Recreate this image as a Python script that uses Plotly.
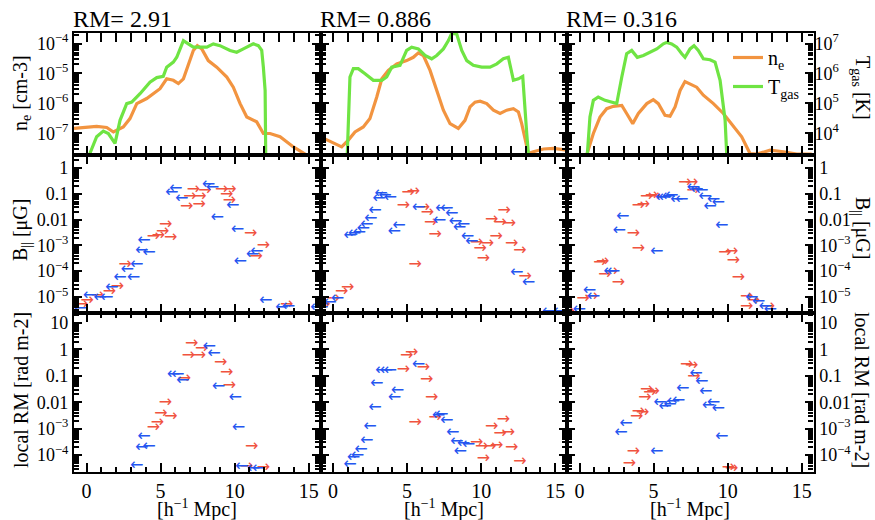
import numpy as np
import plotly.graph_objects as go

# ---------------- data (x in h^-1 Mpc, values as log10) ----------------
col_titles = ["RM= 2.91", "RM= 0.886", "RM= 0.316"]

# top row: electron density (log10 cm^-3) and gas temperature (log10 K)
ne_a_x = [-0.85, 0.68, 1.36, 1.81, 2.48, 2.93, 3.39, 4.06, 4.96, 5.41, 5.86, 6.20, 6.54, 6.87, 7.21, 7.48, 7.78, 8.22, 8.79, 9.47, 9.91, 10.37, 10.82, 11.49, 11.94, 12.39, 13.07, 13.97, 14.87]
ne_a_lg = [-6.84, -6.77, -6.81, -6.96, -6.79, -6.51, -6.01, -5.84, -5.51, -5.18, -5.23, -5.34, -5.18, -4.73, -4.23, -4.07, -4.18, -4.57, -4.79, -5.12, -5.46, -6.01, -6.46, -6.62, -7.01, -7.01, -7.12, -7.46, -7.73]
T_a_x = [0.18, 0.68, 1.13, 1.47, 1.92, 2.26, 2.71, 3.05, 3.61, 4.28, 4.74, 5.18, 5.41, 5.86, 6.09, 6.54, 6.87, 7.21, 7.66, 8.12, 8.56, 9.01, 9.69, 10.14, 10.59, 11.26, 11.60, 11.83, 11.94, 12.06, 12.10]
T_a_lg = [3.27, 3.88, 4.07, 3.99, 3.66, 4.43, 4.99, 5.04, 5.32, 5.71, 5.86, 5.90, 6.21, 6.38, 6.54, 7.10, 6.99, 6.88, 6.88, 6.88, 6.99, 6.93, 6.77, 6.71, 6.82, 6.99, 6.93, 6.77, 6.21, 5.43, 3.27]

ne_b_x = [-0.77, -0.09, 0.58, 1.03, 1.48, 2.04, 2.49, 2.95, 3.29, 3.73, 4.30, 4.97, 5.42, 5.76, 6.10, 6.55, 7.00, 7.45, 7.90, 8.46, 8.91, 9.25, 9.59, 9.93, 10.38, 10.83, 11.28, 11.73, 12.18, 12.52, 12.74, 13.08, 13.19, 13.53, 14.21, 14.89, 15.56, 15.80]
ne_b_lg = [-7.14, -7.29, -7.46, -7.23, -6.96, -6.79, -6.51, -5.79, -5.18, -4.90, -4.68, -4.57, -4.46, -4.31, -4.40, -4.90, -5.57, -6.23, -6.68, -6.84, -6.57, -6.12, -5.96, -5.93, -6.01, -6.23, -6.34, -6.23, -6.18, -6.29, -6.68, -7.46, -7.68, -7.62, -7.53, -7.51, -7.57, -7.57]
T_b_x = [0.96, 1.14, 1.37, 1.70, 2.16, 2.72, 3.29, 3.62, 3.96, 4.52, 4.97, 5.31, 5.76, 6.21, 6.66, 7.00, 7.45, 7.79, 8.01, 8.35, 8.69, 9.03, 9.47, 10.04, 10.60, 11.06, 11.50, 11.84, 12.18, 12.52, 12.81, 12.90, 13.08, 13.19]
T_b_lg = [3.32, 5.88, 6.16, 6.16, 5.99, 5.77, 5.77, 5.88, 6.21, 6.27, 6.77, 6.88, 6.82, 6.60, 6.49, 6.60, 6.82, 7.10, 7.34, 7.32, 6.77, 6.43, 6.27, 6.21, 6.21, 6.32, 6.49, 6.54, 5.77, 5.82, 5.90, 5.10, 3.99, 3.32]

ne_c_x = [0.48, 0.93, 1.38, 1.83, 2.28, 2.85, 3.18, 3.59, 3.97, 4.54, 4.98, 5.32, 5.77, 6.11, 6.45, 6.79, 7.12, 7.46, 7.91, 8.36, 9.04, 9.71, 10.28, 10.95, 11.51, 11.97, 12.87, 13.77, 14.67, 15.68]
ne_c_lg = [-7.73, -7.01, -6.46, -6.18, -6.10, -6.07, -6.34, -6.68, -6.34, -6.01, -5.88, -6.01, -6.40, -6.43, -6.12, -5.57, -5.27, -5.34, -5.46, -5.73, -6.01, -6.34, -6.68, -7.12, -7.68, -7.70, -7.57, -7.62, -7.70, -7.70]
T_c_x = [0.52, 0.70, 0.93, 1.26, 1.72, 2.51, 2.85, 3.18, 3.52, 3.90, 4.31, 4.76, 5.21, 5.66, 5.89, 6.22, 6.56, 6.90, 7.12, 7.46, 7.73, 8.02, 8.36, 8.81, 9.15, 9.49, 9.83, 9.94]
T_c_lg = [3.27, 4.54, 5.10, 5.21, 5.10, 4.99, 5.88, 6.66, 6.77, 6.54, 6.60, 6.71, 6.82, 6.99, 7.04, 6.99, 6.88, 6.66, 6.54, 6.82, 6.93, 6.77, 6.49, 6.46, 6.38, 5.77, 4.43, 3.27]

# middle row: B_parallel (log10 muG); red = pointing away (->), blue = towards (<-)
Ba_red_x = [-0.33, 0.05, 0.75, 1.54, 2.08, 2.60, 4.51, 4.85, 5.14, 5.34, 5.68, 6.76, 6.99, 7.21, 7.60, 7.66, 8.00, 9.13, 9.69, 9.47, 9.65, 11.09, 11.94, 11.45, 13.52]
Ba_red_lg = [-5.31, -5.15, -4.95, -4.79, -4.60, -3.76, -2.66, -2.62, -2.47, -2.21, -2.73, -1.50, -1.11, -0.85, -1.43, -1.11, -0.89, -0.85, -0.85, -1.05, -1.28, -2.56, -3.01, -3.44, -5.31]
Ba_blue_x = [-0.45, 0.19, 0.91, 1.36, 1.70, 2.26, 3.16, 2.75, 3.38, 3.72, 4.22, 3.88, 5.75, 6.02, 6.43, 8.23, 8.50, 8.83, 9.87, 10.19, 10.37, 11.20, 11.49, 12.10, 13.18, 13.63, 15.55]
Ba_blue_lg = [-5.47, -4.95, -5.05, -5.03, -4.66, -4.28, -4.28, -3.95, -3.76, -3.22, -3.31, -2.82, -0.98, -0.83, -1.20, -0.66, -0.79, -1.93, -1.46, -2.40, -3.63, -3.37, -3.27, -5.14, -5.44, -5.37, -5.44]

Bb_red_x = [-0.61, 0.02, 0.58, 0.99, 5.08, 5.42, 4.75, 6.10, 6.37, 6.59, 6.89, 5.54, 9.70, 9.93, 10.42, 10.15, 11.55, 10.72, 11.28, 11.91, 11.01, 12.07, 12.63, 12.97]
Bb_red_lg = [-5.31, -5.08, -4.82, -4.64, -0.98, -0.94, -1.46, -1.56, -1.76, -2.14, -2.60, -3.76, -2.92, -3.14, -2.96, -3.53, -1.65, -2.02, -2.14, -2.17, -2.66, -2.95, -3.20, -4.21]
Bb_blue_x = [-0.77, -0.21, 0.29, 1.14, 1.44, 1.77, 2.04, 2.27, 2.54, 2.83, 3.10, 3.24, 3.51, 3.85, 4.12, 4.45, 5.76, 7.34, 7.68, 7.18, 8.01, 8.24, 8.53, 8.80, 9.07, 9.36, 12.40, 13.19, 14.54, 15.30]
Bb_blue_lg = [-5.41, -5.22, -5.08, -2.62, -2.57, -2.53, -2.36, -2.21, -1.98, -1.67, -1.20, -1.02, -1.07, -1.18, -2.47, -2.24, -1.56, -1.59, -1.59, -2.05, -1.80, -2.08, -2.31, -2.23, -2.66, -2.88, -4.08, -4.47, -5.59, -5.58]

Bc_red_x = [-0.76, 0.25, 0.82, 1.38, 1.56, 1.72, 2.17, 2.62, 3.63, 3.97, 3.97, 4.31, 4.53, 4.87, 5.09, 7.12, 7.57, 7.68, 9.82, 10.27, 10.39, 10.73, 11.29, 11.29, 11.74, 12.75]
Bc_red_lg = [-5.57, -5.08, -4.99, -3.70, -3.63, -4.15, -4.04, -4.44, -2.56, -3.14, -1.47, -1.43, -1.11, -1.07, -1.11, -0.59, -0.59, -0.89, -3.31, -3.24, -3.60, -4.25, -4.99, -5.40, -5.14, -5.37]
Bc_blue_x = [-0.02, 0.66, 0.93, 2.05, 2.28, 2.91, 2.68, 5.21, 5.55, 5.77, 6.00, 6.22, 6.56, 6.90, 7.68, 7.91, 8.25, 8.47, 8.81, 9.04, 9.37, 9.60, 11.63, 12.08, 12.53, 12.87]
Bc_blue_lg = [-5.50, -4.77, -4.99, -4.02, -4.02, -1.91, -2.44, -3.27, -1.18, -1.15, -1.11, -1.07, -1.24, -1.24, -0.79, -0.85, -0.89, -1.11, -1.50, -1.24, -1.37, -2.25, -5.03, -5.18, -5.37, -5.50]

# bottom row: local RM (log10 rad m^-2)
Ra_red_x = [7.10, 7.78, 6.88, 7.62, 9.06, 9.47, 9.65, 6.61, 5.32, 5.03, 5.70, 4.78, 4.51, 11.15, 10.82, 11.94]
Ra_red_lg = [0.19, 0.00, -0.25, -0.25, -0.53, -0.91, -1.39, -1.10, -2.04, -2.45, -2.55, -2.80, -2.99, -3.71, -4.44, -4.47]
Ra_blue_x = [8.29, 8.61, 5.86, 6.16, 6.49, 8.90, 10.03, 10.25, 3.88, 3.72, 4.22, 3.38, 10.48, 11.27, 11.61]
Ra_blue_lg = [0.10, -0.17, -0.98, -0.95, -1.19, -1.44, -1.82, -2.99, -3.33, -3.75, -3.71, -4.42, -4.44, -4.54, -4.51]

Rb_red_x = [4.97, 5.31, 4.75, 6.10, 6.32, 6.66, 5.54, 6.89, 9.70, 10.04, 10.60, 11.05, 10.15, 10.72, 11.50, 11.28, 11.84, 12.07, 12.63]
Rb_red_lg = [-0.25, -0.12, -0.78, -0.72, -1.16, -1.85, -2.78, -2.61, -3.53, -3.71, -3.68, -3.66, -4.15, -2.93, -2.67, -3.20, -3.15, -3.75, -4.25]
Rb_blue_x = [1.14, 1.37, 1.64, 1.89, 2.27, 2.49, 2.83, 2.95, 3.28, 3.58, 3.85, 4.34, 4.14, 5.76, 7.11, 7.34, 7.68, 8.08, 8.35, 8.58, 8.80, 9.14]
Rb_blue_lg = [-4.38, -4.10, -4.04, -3.81, -3.47, -2.95, -2.21, -1.31, -0.82, -0.81, -0.81, -1.58, -1.85, -0.59, -2.52, -2.49, -2.71, -3.15, -3.50, -3.87, -3.58, -3.62]

Rc_red_x = [7.23, 7.57, 7.73, 4.53, 4.76, 4.98, 4.42, 3.97, 4.26, 3.86, 3.63, 3.36, 10.05, 10.27]
Rc_red_lg = [-0.59, -0.63, -1.03, -1.54, -1.64, -1.60, -1.85, -2.36, -2.40, -2.57, -3.87, -4.34, -4.47, -4.54]
Rc_blue_x = [7.86, 8.25, 8.52, 6.96, 6.67, 6.33, 6.11, 5.77, 5.43, 8.70, 9.04, 9.37, 3.14, 2.80, 5.21, 9.60]
Rc_blue_lg = [-0.94, -1.22, -1.60, -1.48, -1.94, -1.98, -2.11, -2.19, -2.04, -2.14, -2.02, -2.27, -2.84, -3.18, -3.87, -3.31]

# tick labels
x_tickvals = [0, 5, 10, 15]
ne_tickvals = [1e-7, 1e-6, 1e-5, 1e-4]
ne_ticktext = ["10<sup>−7</sup>", "10<sup>−6</sup>", "10<sup>−5</sup>", "10<sup>−4</sup>"]
T_tickvals = [1e4, 1e5, 1e6, 1e7]
T_ticktext = ["10<sup>4</sup>", "10<sup>5</sup>", "10<sup>6</sup>", "10<sup>7</sup>"]
B_tickvals = [1e-5, 1e-4, 1e-3, 1e-2, 1e-1, 1]
B_ticktext = ["10<sup>−5</sup>", "10<sup>−4</sup>", "10<sup>−3</sup>", "0.01", "0.1", "1"]
RM_tickvals = [1e-4, 1e-3, 1e-2, 1e-1, 1, 10]
RM_ticktext = ["10<sup>−4</sup>", "10<sup>−3</sup>", "0.01", "0.1", "1", "10"]

# ---------------- styling / layout ----------------
W, H = 875, 520
COL = [74, 320.5, 567, 813.5]
ROW = [32.5, 155, 313, 472]
XR = [-0.85, 15.8]
NE_R = [-7.73, -3.63]
T_R = [3.27, 7.37]
B_R = [-5.62, 0.50]
RM_R = [-4.64, 1.38]

ORANGE = "#F29440"
GREEN = "#6FE443"
RED = "#F0533F"
BLUE = "#2456F0"
FONT = "Liberation Serif"


def xd(c):
    return [COL[c] / W, COL[c + 1] / W]


def yd(r):
    return [1 - ROW[r + 1] / H, 1 - ROW[r] / H]


def logminor(lo, hi):
    return [m * 10.0 ** k for k in range(lo, hi + 1) for m in range(2, 10)]


def P(v):
    return 10.0 ** np.asarray(v)


fig = go.Figure()

ne_sets = [(ne_a_x, ne_a_lg), (ne_b_x, ne_b_lg), (ne_c_x, ne_c_lg)]
T_sets = [(T_a_x, T_a_lg), (T_b_x, T_b_lg), (T_c_x, T_c_lg)]
B_sets = [(Ba_red_x, Ba_red_lg, Ba_blue_x, Ba_blue_lg),
          (Bb_red_x, Bb_red_lg, Bb_blue_x, Bb_blue_lg),
          (Bc_red_x, Bc_red_lg, Bc_blue_x, Bc_blue_lg)]
R_sets = [(Ra_red_x, Ra_red_lg, Ra_blue_x, Ra_blue_lg),
          (Rb_red_x, Rb_red_lg, Rb_blue_x, Rb_blue_lg),
          (Rc_red_x, Rc_red_lg, Rc_blue_x, Rc_blue_lg)]

ARROW_FONT = "DejaVu Sans"
ARROW_SIZE = 16

for c in range(3):
    xa_top = "x" if c == 0 else f"x{c + 1}"
    ya_top = "y" if c == 0 else f"y{c + 1}"
    fig.add_trace(go.Scatter(x=ne_sets[c][0], y=P(ne_sets[c][1]), mode="lines",
                             line=dict(color=ORANGE, width=3.2), name="n<sub>e</sub>",
                             showlegend=(c == 2), xaxis=xa_top, yaxis=ya_top))
    fig.add_trace(go.Scatter(x=T_sets[c][0], y=P(T_sets[c][1]), mode="lines",
                             line=dict(color=GREEN, width=3.2), name="T<sub>gas</sub>",
                             showlegend=(c == 2), xaxis=xa_top, yaxis=f"y{10 + c}"))
    for r, sets in ((1, B_sets), (2, R_sets)):
        n = r * 3 + c + 1
        rx, rl, bx, bl = sets[c]
        fig.add_trace(go.Scatter(x=rx, y=P(rl), mode="text", text=["→"] * len(rx),
                                 textfont=dict(color=RED, size=ARROW_SIZE, family=ARROW_FONT),
                                 showlegend=False, xaxis=f"x{n}", yaxis=f"y{n}"))
        fig.add_trace(go.Scatter(x=bx, y=P(bl), mode="text", text=["←"] * len(bx),
                                 textfont=dict(color=BLUE, size=ARROW_SIZE, family=ARROW_FONT),
                                 showlegend=False, xaxis=f"x{n}", yaxis=f"y{n}"))

AXBASE = dict(showline=True, linecolor="black", linewidth=2.2, mirror="allticks",
              ticks="inside", tickcolor="black", tickwidth=2.2, showgrid=False,
              zeroline=False, automargin=False,
              tickfont=dict(family=FONT, size=18, color="black"))

layout = {}
yinfo = [(NE_R, ne_tickvals, ne_ticktext, logminor(-8, -4)),
         (B_R, B_tickvals, B_ticktext, logminor(-6, 0)),
         (RM_R, RM_tickvals, RM_ticktext, logminor(-5, 1))]

for r in range(3):
    for c in range(3):
        n = r * 3 + c + 1
        key = "" if n == 1 else str(n)
        xa = dict(AXBASE)
        xa.update(domain=xd(c), anchor=f"y{key}", range=XR, tickmode="array",
                  tickvals=x_tickvals, ticklen=9, showticklabels=(r == 2),
                  tickfont=dict(family=FONT, size=20, color="black"),
                  minor=dict(ticks="inside", tickmode="linear", tick0=0, dtick=1,
                             ticklen=5, tickwidth=2, tickcolor="black", showgrid=False))
        layout[f"xaxis{key}"] = xa
        rng, tv, tt, mv = yinfo[r]
        ya = dict(AXBASE)
        ya.update(domain=yd(r), anchor=f"x{key}", type="log", range=rng,
                  tickmode="array", tickvals=tv, ticktext=tt, ticklen=8,
                  side=("right" if (c == 2) else "left"),
                  showticklabels=(c == 0 or (c == 2 and r > 0)),
                  minor=dict(ticks="inside", tickmode="array", tickvals=mv,
                             ticklen=5, tickwidth=2, tickcolor="black", showgrid=False))
        layout[f"yaxis{key}"] = ya

for c in range(3):
    key = "" if c == 0 else str(c + 1)
    layout[f"yaxis{10 + c}"] = dict(
        overlaying=f"y{key}", anchor=f"x{key}", type="log", range=T_R, side="right",
        tickmode="array", tickvals=T_tickvals, ticktext=T_ticktext,
        showticklabels=(c == 2), ticks="", showline=False, showgrid=False,
        zeroline=False, automargin=False, visible=(c == 2),
        tickfont=dict(family=FONT, size=18, color="black"))

annotations = []
TF = dict(family=FONT, size=20, color="black")
for c in range(3):
    annotations.append(dict(text=col_titles[c], x=(COL[c] - 3) / W, y=1 - 19 / H,
                            xref="paper", yref="paper", xanchor="left", yanchor="middle",
                            showarrow=False, font=dict(family=FONT, size=24, color="black")))
    annotations.append(dict(text="[h<sup>−1</sup> Mpc]", x=(COL[c] + COL[c + 1]) / 2 / W,
                            y=1 - 508 / H, xref="paper", yref="paper", xanchor="center",
                            yanchor="middle", showarrow=False, font=TF))

left_titles = ["n<sub>e</sub> [cm-3]", "B<sub>||</sub> [μG]", "local RM [rad m-2]"]
right_titles = ["T<sub>gas</sub> [K]", "B<sub>||</sub> [μG]", "local RM [rad m-2]"]
left_y = [93, 230, 390]
right_y = [88, 228, 390]
for r in range(3):
    annotations.append(dict(text=left_titles[r], x=21 / W, y=1 - left_y[r] / H,
                            xref="paper", yref="paper", xanchor="center", yanchor="middle",
                            textangle=-90, showarrow=False, font=TF))
    annotations.append(dict(text=right_titles[r], x=862 / W, y=1 - right_y[r] / H,
                            xref="paper", yref="paper", xanchor="center", yanchor="middle",
                            textangle=90, showarrow=False, font=TF))

fig.update_layout(**layout)
fig.update_layout(
    width=W, height=H, autosize=False, template="none",
    margin=dict(l=0, r=0, t=0, b=0, pad=0),
    paper_bgcolor="white", plot_bgcolor="white",
    font=dict(family=FONT, size=18, color="black"),
    annotations=annotations,
    legend=dict(x=728 / W, y=1 - 38 / H, xanchor="left", yanchor="top",
                bgcolor="rgba(0,0,0,0)", borderwidth=0, itemwidth=30,
                tracegroupgap=0, font=dict(family=FONT, size=20, color="black")),
)

fig.write_html("out.html")
